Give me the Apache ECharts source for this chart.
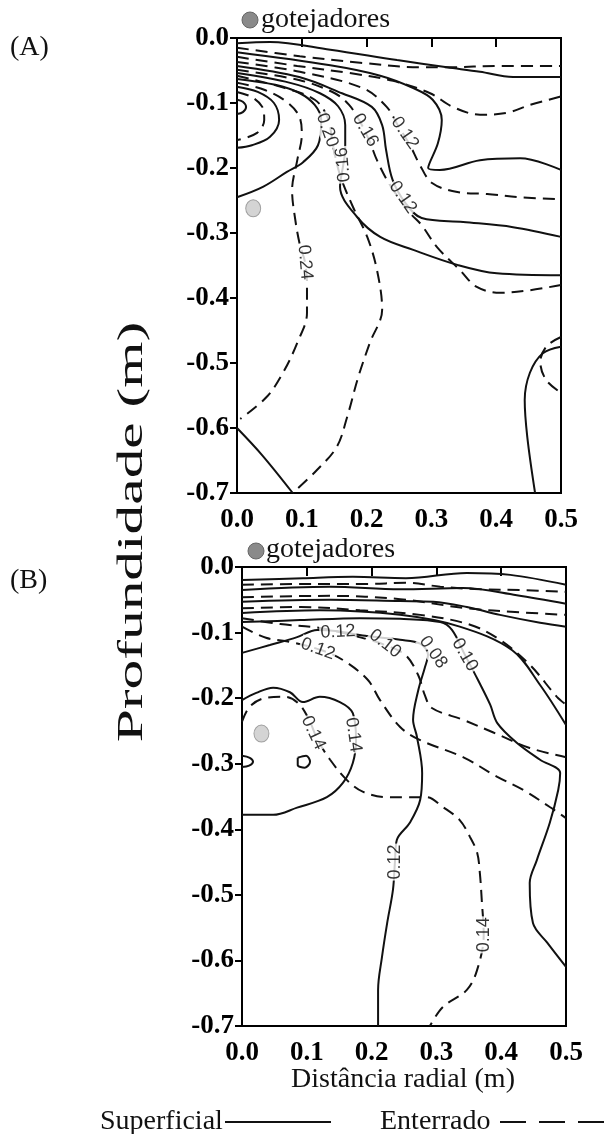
<!DOCTYPE html>
<html><head><meta charset="utf-8">
<script src="https://cdn.jsdelivr.net/npm/echarts/dist/echarts.min.js"></script>
<style>html,body{margin:0;padding:0;background:#fff}#c{width:609px;height:1134px}</style>
</head><body><div id="c"></div>
<script>
// ---- axis ticks ----
const xTicks = [0.0, 0.1, 0.2, 0.3, 0.4, 0.5];
const yTicks = [0.0, -0.1, -0.2, -0.3, -0.4, -0.5, -0.6, -0.7];

// ---- Panel A contours (x = radial distance m, y = depth m) ----
// Superficial (solid)
const aS1 = [[0,-0.008],[0.051,-0.006],[0.144,-0.018],[0.247,-0.034],[0.324,-0.045],[0.375,-0.052],[0.426,-0.060],[0.5,-0.060]];
const aS2 = [[0,-0.022],[0.144,-0.042],[0.221,-0.058],[0.272,-0.077],[0.302,-0.095],[0.316,-0.126],[0.310,-0.162],[0.295,-0.2],[0.313,-0.203],[0.375,-0.188],[0.437,-0.185],[0.5,-0.203]];
const aS3 = [[0,-0.043],[0.096,-0.060],[0.162,-0.085],[0.208,-0.106],[0.224,-0.134],[0.230,-0.172],[0.240,-0.218],[0.260,-0.254],[0.285,-0.277],[0.349,-0.283],[0.426,-0.291],[0.5,-0.306]];
const aS4 = [[0,-0.054],[0.082,-0.069],[0.128,-0.085],[0.156,-0.105],[0.167,-0.134],[0.167,-0.172],[0.164,-0.195],[0.159,-0.229],[0.185,-0.275],[0.221,-0.306],[0.272,-0.326],[0.340,-0.349],[0.401,-0.362],[0.5,-0.365]];
const aS5 = [[0,-0.063],[0.059,-0.072],[0.097,-0.085],[0.120,-0.103],[0.130,-0.126],[0.125,-0.165],[0.102,-0.191],[0.077,-0.206],[0.040,-0.229],[0,-0.245]];
const aS6 = [[0,-0.075],[0.032,-0.083],[0.057,-0.100],[0.065,-0.126],[0.051,-0.152],[0.023,-0.165],[0,-0.169]];
const aS7 = [[0,-0.095],[0.009,-0.098],[0.014,-0.106],[0.009,-0.114],[0,-0.117]];
const aS8 = [[0,-0.600],[0.039,-0.642],[0.086,-0.700]];
const aS9 = [[0.5,-0.475],[0.472,-0.485],[0.452,-0.515],[0.444,-0.557],[0.448,-0.614],[0.460,-0.700]];
// Enterrado (dashed)
const aD1 = [[0,-0.015],[0.097,-0.028],[0.190,-0.038],[0.282,-0.045],[0.324,-0.045],[0.406,-0.043],[0.5,-0.043]];
const aD2 = [[0,-0.029],[0.093,-0.043],[0.174,-0.054],[0.241,-0.066],[0.298,-0.085],[0.333,-0.106],[0.375,-0.118],[0.417,-0.115],[0.452,-0.103],[0.5,-0.090]];
const aD3 = [[0,-0.037],[0.097,-0.052],[0.194,-0.077],[0.231,-0.106],[0.248,-0.134],[0.267,-0.165],[0.282,-0.195],[0.301,-0.223],[0.340,-0.237],[0.386,-0.240],[0.437,-0.245],[0.5,-0.248]];
const aD4 = [[0,-0.049],[0.097,-0.065],[0.151,-0.085],[0.173,-0.103],[0.190,-0.129],[0.205,-0.160],[0.216,-0.188],[0.236,-0.226],[0.267,-0.269],[0.285,-0.288],[0.309,-0.322],[0.344,-0.357],[0.370,-0.383],[0.406,-0.392],[0.452,-0.388],[0.5,-0.380]];
const aD5 = [[0,-0.058],[0.074,-0.077],[0.120,-0.095],[0.140,-0.123],[0.148,-0.165],[0.159,-0.211],[0.179,-0.260],[0.201,-0.306],[0.216,-0.357],[0.224,-0.418],[0.205,-0.469],[0.187,-0.522],[0.170,-0.583],[0.154,-0.629],[0.123,-0.665],[0.086,-0.700]];
const aD6 = [[0,-0.069],[0.043,-0.080],[0.079,-0.100],[0.097,-0.123],[0.100,-0.149],[0.093,-0.188],[0.085,-0.234],[0.090,-0.280],[0.097,-0.318],[0.105,-0.345],[0.108,-0.380],[0.108,-0.423],[0.093,-0.469],[0.071,-0.515],[0.046,-0.552],[0.005,-0.586]];
const aD7 = [[0,-0.083],[0.023,-0.091],[0.039,-0.106],[0.042,-0.126],[0.031,-0.146],[0,-0.157]];
const aD8 = [[0.5,-0.460],[0.478,-0.474],[0.468,-0.498],[0.477,-0.526],[0.5,-0.546]];
// contour labels A: [x, y, text]
const aLabels = [[0.139,-0.142,'0.20'],[0.198,-0.142,'0.16'],[0.259,-0.146,'0.12'],[0.164,-0.195,'0.16'],[0.256,-0.245,'0.12'],[0.105,-0.345,'0.24']];
const aLabelRot = [-70,-60,-55,95,-55,-85];
const aDrip = [[0.025,-0.262]];

// ---- Panel B contours ----
const bS1 = [[0,-0.020],[0.094,-0.017],[0.171,-0.015],[0.253,-0.017],[0.347,-0.009],[0.414,-0.012],[0.5,-0.027]];
const bS2 = [[0,-0.035],[0.136,-0.030],[0.244,-0.034],[0.341,-0.032],[0.424,-0.043],[0.5,-0.056]];
const bS3 = [[0,-0.053],[0.136,-0.050],[0.244,-0.052],[0.295,-0.053],[0.347,-0.061],[0.398,-0.073],[0.460,-0.085],[0.5,-0.091]];
const bS4 = [[0,-0.070],[0.120,-0.066],[0.244,-0.073],[0.336,-0.091],[0.417,-0.127],[0.460,-0.180],[0.5,-0.241]];
const bS5 = [[0,-0.084],[0.090,-0.081],[0.182,-0.078],[0.244,-0.079],[0.306,-0.084],[0.324,-0.096],[0.344,-0.134],[0.364,-0.172],[0.383,-0.210],[0.394,-0.238],[0.424,-0.268],[0.460,-0.294],[0.491,-0.314],[0.488,-0.340],[0.475,-0.390],[0.455,-0.447],[0.444,-0.482],[0.449,-0.543],[0.471,-0.573],[0.5,-0.610]];
const bS6 = [[0,-0.131],[0.043,-0.119],[0.085,-0.107],[0.116,-0.096],[0.148,-0.098],[0.190,-0.105],[0.244,-0.111],[0.275,-0.117],[0.287,-0.134],[0.282,-0.154],[0.272,-0.188],[0.264,-0.233],[0.270,-0.259],[0.278,-0.314],[0.275,-0.355],[0.259,-0.390],[0.239,-0.416],[0.236,-0.450],[0.233,-0.492],[0.224,-0.543],[0.216,-0.595],[0.210,-0.645],[0.210,-0.700]];
const bS7 = [[0,-0.203],[0.022,-0.192],[0.048,-0.184],[0.074,-0.191],[0.094,-0.206],[0.120,-0.198],[0.151,-0.206],[0.171,-0.223],[0.176,-0.264],[0.171,-0.299],[0.156,-0.329],[0.131,-0.351],[0.085,-0.367],[0.048,-0.378],[0,-0.378]];
const bS8 = [[0.086,-0.291],[0.099,-0.288],[0.105,-0.297],[0.097,-0.306],[0.086,-0.302],[0.086,-0.291]];
const bS9 = [[0,-0.288],[0.012,-0.291],[0.017,-0.297],[0.011,-0.303],[0,-0.305]];
const bD1 = [[0,-0.027],[0.090,-0.026],[0.191,-0.026],[0.253,-0.024],[0.306,-0.030],[0.367,-0.034],[0.429,-0.035],[0.5,-0.038]];
const bD2 = [[0,-0.046],[0.136,-0.044],[0.244,-0.049],[0.347,-0.063],[0.429,-0.069],[0.5,-0.073]];
const bD3 = [[0,-0.063],[0.090,-0.061],[0.182,-0.066],[0.275,-0.073],[0.352,-0.088],[0.398,-0.111],[0.444,-0.149],[0.486,-0.198],[0.5,-0.210]];
const bD4 = [[0,-0.078],[0.059,-0.087],[0.120,-0.093],[0.174,-0.105],[0.221,-0.119],[0.252,-0.134],[0.272,-0.165],[0.282,-0.195],[0.293,-0.215],[0.341,-0.233],[0.387,-0.252],[0.444,-0.276],[0.5,-0.290]];
const bD5 = [[0,-0.091],[0.037,-0.108],[0.073,-0.114],[0.123,-0.127],[0.156,-0.142],[0.194,-0.172],[0.213,-0.203],[0.244,-0.244],[0.275,-0.264],[0.341,-0.290],[0.394,-0.320],[0.434,-0.340],[0.475,-0.366],[0.5,-0.383]];
const bD6 = [[0,-0.236],[0.012,-0.213],[0.035,-0.200],[0.066,-0.198],[0.086,-0.207],[0.102,-0.230],[0.117,-0.264],[0.136,-0.294],[0.162,-0.325],[0.187,-0.343],[0.224,-0.351],[0.248,-0.351],[0.285,-0.351],[0.310,-0.366],[0.336,-0.386],[0.352,-0.412],[0.363,-0.436],[0.367,-0.466],[0.370,-0.508],[0.373,-0.561],[0.363,-0.614],[0.347,-0.645],[0.310,-0.671],[0.290,-0.700]];
const bLabels = [[0.148,-0.099,'0.12'],[0.117,-0.125,'0.12'],[0.221,-0.117,'0.10'],[0.295,-0.130,'0.08'],[0.344,-0.134,'0.10'],[0.110,-0.253,'0.14'],[0.172,-0.256,'0.14'],[0.236,-0.450,'0.12'],[0.373,-0.561,'0.14']];
const bLabelRot = [3,-20,-38,-55,-60,-65,-82,90,90];
const bDrip = [[0.030,-0.254]];

const solidA = [aS1,aS2,aS3,aS4,aS5,aS6,aS7,aS8,aS9];
const dashA = [aD1,aD2,aD3,aD4,aD5,aD6,aD7,aD8];
const solidB = [bS1,bS2,bS3,bS4,bS5,bS6,bS7,bS8,bS9];
const dashB = [bD1,bD2,bD3,bD4,bD5,bD6];

const chart = echarts.init(document.getElementById('c'), null, {renderer:'canvas'});
const serif = '"Liberation Serif", "DejaVu Serif", serif';

function xAx(g){ return {type:'value', gridIndex:g, min:0, max:0.5, interval:0.1,
  axisLine:{show:true, lineStyle:{color:'#000', width:2}},
  axisTick:{show:true, length:9, lineStyle:{color:'#000', width:2}},
  axisLabel:{formatter:v=>v.toFixed(1), fontFamily:serif, fontWeight:'bold', fontSize:27, color:'#000', margin:14},
  splitLine:{show:false}}; }
function yAx(g){ return {type:'value', gridIndex:g, min:-0.7, max:0, interval:0.1,
  axisLine:{show:true, lineStyle:{color:'#000', width:2}},
  axisTick:{show:true, length:7, lineStyle:{color:'#000', width:2}},
  axisLabel:{formatter:v=>(Math.abs(v)<1e-9?'0.0':v.toFixed(1)), fontFamily:serif, fontWeight:'bold', fontSize:27, color:'#000', margin:8},
  splitLine:{show:false}}; }
function line(data, dashed, g){ return {type:'line', xAxisIndex:g, yAxisIndex:g, data:data, smooth:0.35,
  showSymbol:false, symbol:'none', silent:true, z:2,
  lineStyle:{color:'#111', width:2, type: dashed ? [12,7] : 'solid'}}; }
function labels(list, rot, g){ return {type:'scatter', xAxisIndex:g, yAxisIndex:g, symbolSize:1, silent:true, z:5,
  itemStyle:{color:'rgba(0,0,0,0)'},
  data: list.map((l,i)=>({value:[l[0],l[1]], name:l[2], label:{rotate:rot[i]}})),
  label:{show:true, position:'inside', formatter:'{b}', fontFamily:'"Liberation Sans", Arial, sans-serif', fontSize:18, color:'#000', backgroundColor:'#fff', padding:[0,1]}}; }
function drip(data, g){ return {type:'scatter', xAxisIndex:g, yAxisIndex:g, data:data, symbol:'circle', symbolSize:[15,17], silent:true, z:6,
  itemStyle:{color:'#c9c9c9', borderColor:'#8c8c8c', borderWidth:1}}; }

const series = [];
solidA.forEach(d=>series.push(line(d,false,0)));
dashA.forEach(d=>series.push(line(d,true,0)));
solidB.forEach(d=>series.push(line(d,false,1)));
dashB.forEach(d=>series.push(line(d,true,1)));
series.push(labels(aLabels, aLabelRot, 0));
series.push(labels(bLabels, bLabelRot, 1));
series.push(drip(aDrip,0));
series.push(drip(bDrip,1));

const txt = (x,y,text,size,extra)=>Object.assign({type:'text', x:x, y:y, silent:true,
  style:{text:text, font:size+'px '+serif, fill:'#111', textAlign:'left', textVerticalAlign:'middle'}}, extra||{});

chart.setOption({
  animation:false,
  backgroundColor:'#fff',
  grid:[
    {left:237, top:38, width:324, height:455, show:true, borderColor:'#000', borderWidth:2, backgroundColor:'transparent'},
    {left:242, top:567, width:324, height:459, show:true, borderColor:'#000', borderWidth:2, backgroundColor:'transparent'}
  ],
  xAxis:[xAx(0), xAx(1)],
  yAxis:[yAx(0), yAx(1)],
  series: series,
  graphic:[
    txt(10,48,'(A)',28),
    txt(10,581,'(B)',28),
    {type:'circle', shape:{cx:250, cy:20, r:8}, style:{fill:'#8a8a8a', stroke:'#666', lineWidth:1}, silent:true},
    txt(261,20,'gotejadores',28),
    {type:'circle', shape:{cx:256, cy:551, r:8}, style:{fill:'#8a8a8a', stroke:'#666', lineWidth:1}, silent:true},
    txt(266,550,'gotejadores',28),
    {type:'text', x:133, y:532, rotation:Math.PI/2, scaleX:1.65, scaleY:1, silent:true,
      style:{text:'Profundidade (m)', font:'36px '+serif, fill:'#111', textAlign:'center', textVerticalAlign:'middle'}},
    {type:'text', x:403, y:1080, silent:true,
      style:{text:'Distância radial (m)', font:'28px '+serif, fill:'#111', textAlign:'center', textVerticalAlign:'middle'}},
    txt(100,1122,'Superficial',28),
    {type:'line', shape:{x1:225, y1:1122, x2:331, y2:1122}, style:{stroke:'#111', lineWidth:2}, silent:true},
    txt(380,1122,'Enterrado',28),
    {type:'line', shape:{x1:500, y1:1122, x2:609, y2:1122}, style:{stroke:'#111', lineWidth:2, lineDash:[26,13]}, silent:true}
  ]
});
</script></body></html>
